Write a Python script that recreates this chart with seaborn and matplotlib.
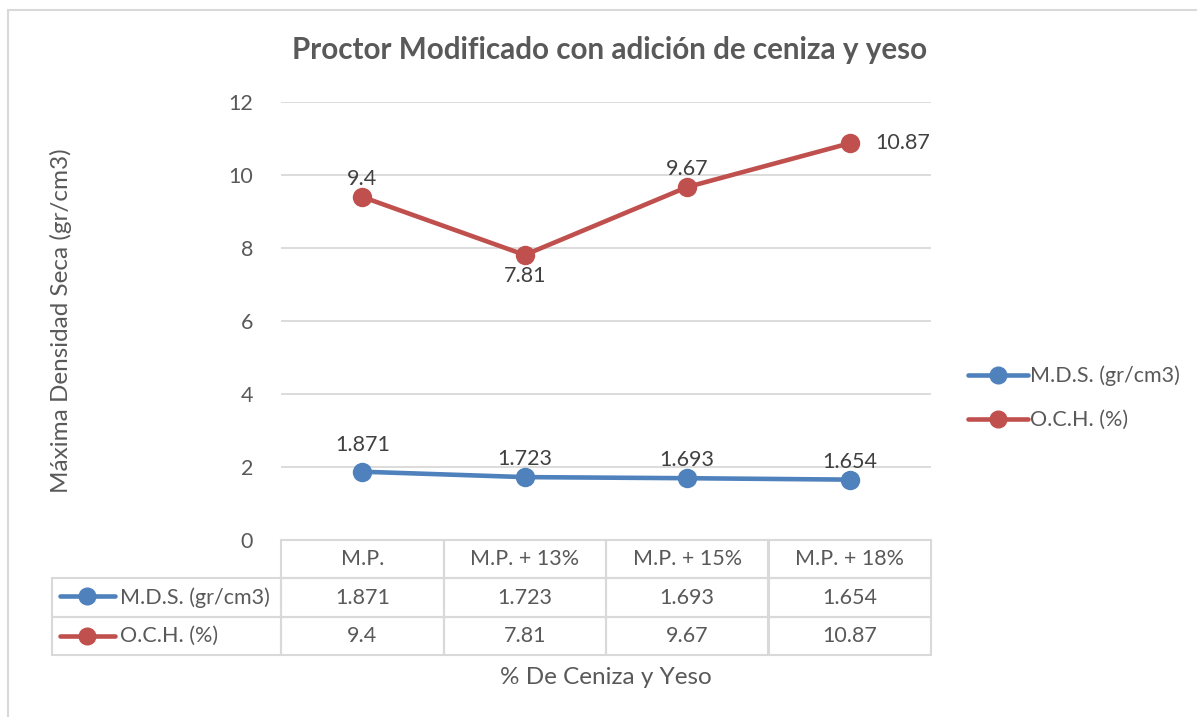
import pandas as pd
import matplotlib
matplotlib.use("Agg")
import matplotlib.pyplot as plt
import seaborn as sns
from matplotlib.table import Table
from matplotlib.lines import Line2D
from matplotlib.patches import Rectangle

# data
categories = ["M.P.", "M.P. + 13%", "M.P. + 15%", "M.P. + 18%"]
mds = [1.871, 1.723, 1.693, 1.654]
och = [9.4, 7.81, 9.67, 10.87]
series_names = ["M.D.S. (gr/cm3)", "O.C.H. (%)"]
colors = ["#4F81BD", "#C0504D"]
yticks = [0, 2, 4, 6, 8, 10, 12]

sns.set_theme(style="white")
plt.rcParams["font.family"] = ["Lato", "DejaVu Sans"]
grey = "#595959"
dark = "#404040"
line_grey = "#D9D9D9"
fs = 15.5

df = pd.DataFrame({
    "cat": categories * 2,
    "value": mds + och,
    "serie": [series_names[0]] * 4 + [series_names[1]] * 4,
})

W, H = 1197, 717
AW, AH = 650, 438
fig = plt.figure(figsize=(W / 100, H / 100), dpi=100)
ax = fig.add_axes([281 / W, 1 - 540 / H, AW / W, AH / H])

sns.lineplot(data=df, x="cat", y="value", hue="serie", palette=colors,
             marker="o", markersize=14, linewidth=3.3, markeredgewidth=0,
             sort=False, legend=False, ax=ax)

ax.set_xlim(-0.5, 3.5)
ax.set_ylim(0, 12)
ax.set_yticks(yticks)
ax.set_xticks([])
ax.set_xlabel("")
ax.set_ylabel("Máxima Densidad Seca (gr/cm3)", fontsize=17.5, color=grey)
ax.yaxis.set_label_coords(-0.322, 0.5)
ax.tick_params(axis="y", length=0, labelsize=fs, labelcolor=grey, pad=20)
ax.grid(axis="y", color=line_grey, linewidth=1.3)
ax.set_axisbelow(True)
for s in ax.spines.values():
    s.set_visible(False)

# data labels
for i, v in enumerate(mds):
    dy = 19 if i == 0 else 13
    ax.annotate(f"{v}", (i, v), xytext=(0, dy), textcoords="offset points",
                ha="center", va="center", fontsize=fs, color=dark)
och_off = [(0, 13), (0, -15), (0, 13), (38, 0)]
for i, v in enumerate(och):
    dx, dy = och_off[i]
    ax.annotate(f"{v}", (i, v), xytext=(dx, dy), textcoords="offset points",
                ha="center", va="center", fontsize=fs, color=dark)

# legend on the right
handles = [Line2D([], [], color=c, linewidth=3.3, marker="o", markersize=12)
           for c in colors]
ax.legend(handles, series_names, loc="center left",
          bbox_to_anchor=((968 - 281) / AW, (540 - 398) / AH),
          frameon=False, fontsize=fs, handlelength=2.8, handletextpad=0.1,
          labelspacing=1.1, borderpad=0, borderaxespad=0, labelcolor=grey)

# data table below the plot (first column holds the series names)
label_w = 229 / AW
col_w = 162.5 / AW
row_h = 115 / AH / 3
tbl = Table(ax, bbox=[-label_w, -3 * row_h, label_w + 4 * col_w, 3 * row_h])
rows = [mds, och]
tbl.add_cell(0, 0, label_w, row_h, text="")
for j, cat in enumerate(categories, start=1):
    tbl.add_cell(0, j, col_w, row_h, text=cat, loc="center")
for i, vals in enumerate(rows, start=1):
    c = tbl.add_cell(i, 0, label_w, row_h, text=series_names[i - 1], loc="left")
    c.PAD = 0.295
    for j, v in enumerate(vals, start=1):
        tbl.add_cell(i, j, col_w, row_h, text=f"{v}", loc="center")
tbl.auto_set_font_size(False)
for (r, cidx), cell in tbl.get_celld().items():
    cell.set_edgecolor(line_grey)
    cell.set_linewidth(1.5)
    cell.set_facecolor("none")
    cell.get_text().set_fontsize(fs)
    cell.get_text().set_color(grey)
tbl[0, 0].visible_edges = ""
ax.add_table(tbl)

# legend keys inside the table
for k, ycen in enumerate([596, 636]):
    y = (540 - ycen) / AH
    ax.add_line(Line2D([(60 - 281) / AW, (87 - 281) / AW, (115 - 281) / AW], [y, y, y],
                       transform=ax.transAxes, clip_on=False, color=colors[k],
                       linewidth=3.3, marker="o", markersize=12, markevery=[1]))

fig.text(606 / W, 1 - 677 / H, "% De Ceniza y Yeso", ha="center", va="center",
         fontsize=17.5, color=grey)
fig.text(610 / W, 1 - 50 / H, "Proctor Modificado con adición de ceniza y yeso",
         ha="center", va="center", fontsize=21.3, fontweight="bold", color=grey)

fig.add_artist(Rectangle((8 / W, -0.05), 1.1, 1 - 10 / H + 0.05, transform=fig.transFigure,
                         fill=False, edgecolor=line_grey, linewidth=1.5))

fig.savefig("out.png", dpi=100)
